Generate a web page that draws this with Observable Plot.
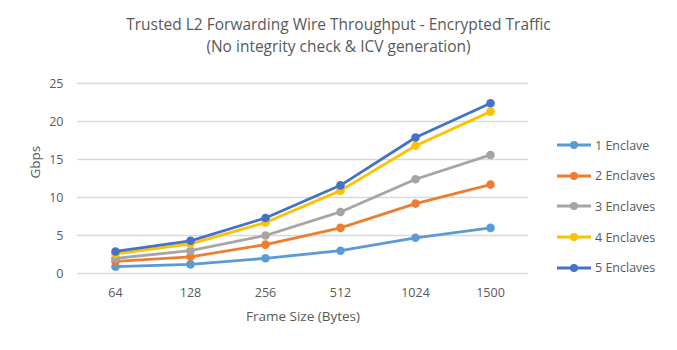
<!DOCTYPE html>
<html>
<head>
<meta charset="utf-8">
<script src="https://cdn.jsdelivr.net/npm/d3@7"></script>
<script src="https://cdn.jsdelivr.net/npm/@observablehq/plot@0.6"></script>
<style>
  body { margin: 0; background: #fff; }
  #wrap { position: relative; width: 677px; height: 350px; font-family: "Open Sans", "Liberation Sans", sans-serif; color: #595959; }
  #title { position: absolute; top: 13px; left: 0; width: 677px; text-align: center; font-size: 15.5px; line-height: 22px; color: #595959; }
  #chart { position: absolute; top: 0; left: 0; }
  #legend { position: absolute; left: 556px; top: 130px; font-size: 12.5px; color: #595959; }
  .li { display: flex; align-items: center; height: 30.6px; }
  .li svg { margin-right: 3px; }
</style>
</head>
<body>
<div id="wrap">
  <div id="title">Trusted L2 Forwarding Wire Throughput - Encrypted Traffic<br>(No integrity check &amp; ICV generation)</div>
  <div id="chart"></div>
  <div id="legend"></div>
</div>
<script>
const frameSizes = ["64", "128", "256", "512", "1024", "1500"];
const seriesNames = ["1 Enclave", "2 Enclaves", "3 Enclaves", "4 Enclaves", "5 Enclaves"];
const seriesColors = ["#5B9BD5", "#ED7D31", "#A5A5A5", "#FFC000", "#4472C4"];
const enclave1 = [0.9, 1.2, 2.0, 3.0, 4.7, 6.0];
const enclave2 = [1.6, 2.2, 3.8, 6.0, 9.2, 11.7];
const enclave3 = [2.0, 3.0, 5.0, 8.1, 12.4, 15.6];
const enclave4 = [2.6, 3.9, 6.7, 10.9, 16.8, 21.3];
const enclave5 = [2.9, 4.3, 7.3, 11.6, 17.9, 22.4];
const yTicks = [0, 5, 10, 15, 20, 25];

const allSeries = [enclave1, enclave2, enclave3, enclave4, enclave5];
const data = [];
allSeries.forEach((vals, si) => {
  vals.forEach((v, i) => data.push({series: seriesNames[si], size: frameSizes[i], value: v}));
});

const fontFamily = '"Open Sans", "Liberation Sans", sans-serif';
const plot = Plot.plot({
  width: 677,
  height: 350,
  marginTop: 83,
  marginBottom: 77,
  marginLeft: 77,
  marginRight: 149,
  style: { fontFamily, fontSize: "12px", color: "#595959", background: "transparent" },
  x: { type: "point", domain: frameSizes, padding: 0.5, label: null },
  y: { domain: [0, 25], label: null },
  color: { domain: seriesNames, range: seriesColors },
  marks: [
    Plot.ruleY(yTicks, { stroke: "#d9d9d9", strokeWidth: 1.3 }),
    Plot.axisY({ ticks: yTicks, tickSize: 0, tickPadding: 14, label: null, fill: "#595959", fontSize: 12.5 }),
    Plot.axisX({ tickSize: 0, tickPadding: 15, label: null, fill: "#595959", fontSize: 12.5 }),
    Plot.text(["Frame Size (Bytes)"], { frameAnchor: "bottom", dy: 47, fill: "#595959", fontSize: 13.5 }),
    Plot.text(["Gbps"], { frameAnchor: "left", dx: -42, rotate: -90, fill: "#595959", fontSize: 13.5 }),
    Plot.line(data, { x: "size", y: "value", z: "series", stroke: "series", strokeWidth: 2.8, strokeLinejoin: "round", strokeLinecap: "round" }),
    Plot.dot(data, { x: "size", y: "value", fill: "series", r: 4.3 })
  ]
});
document.getElementById("chart").appendChild(plot);

const legend = document.getElementById("legend");
seriesNames.forEach((name, i) => {
  const row = document.createElement("div");
  row.className = "li";
  row.innerHTML = `<svg width="36" height="10"><line x1="1" x2="35" y1="5" y2="5" stroke="${seriesColors[i]}" stroke-width="2.8"/><circle cx="18" cy="5" r="4" fill="${seriesColors[i]}"/></svg><span>${name}</span>`;
  legend.appendChild(row);
});
</script>
</body>
</html>
